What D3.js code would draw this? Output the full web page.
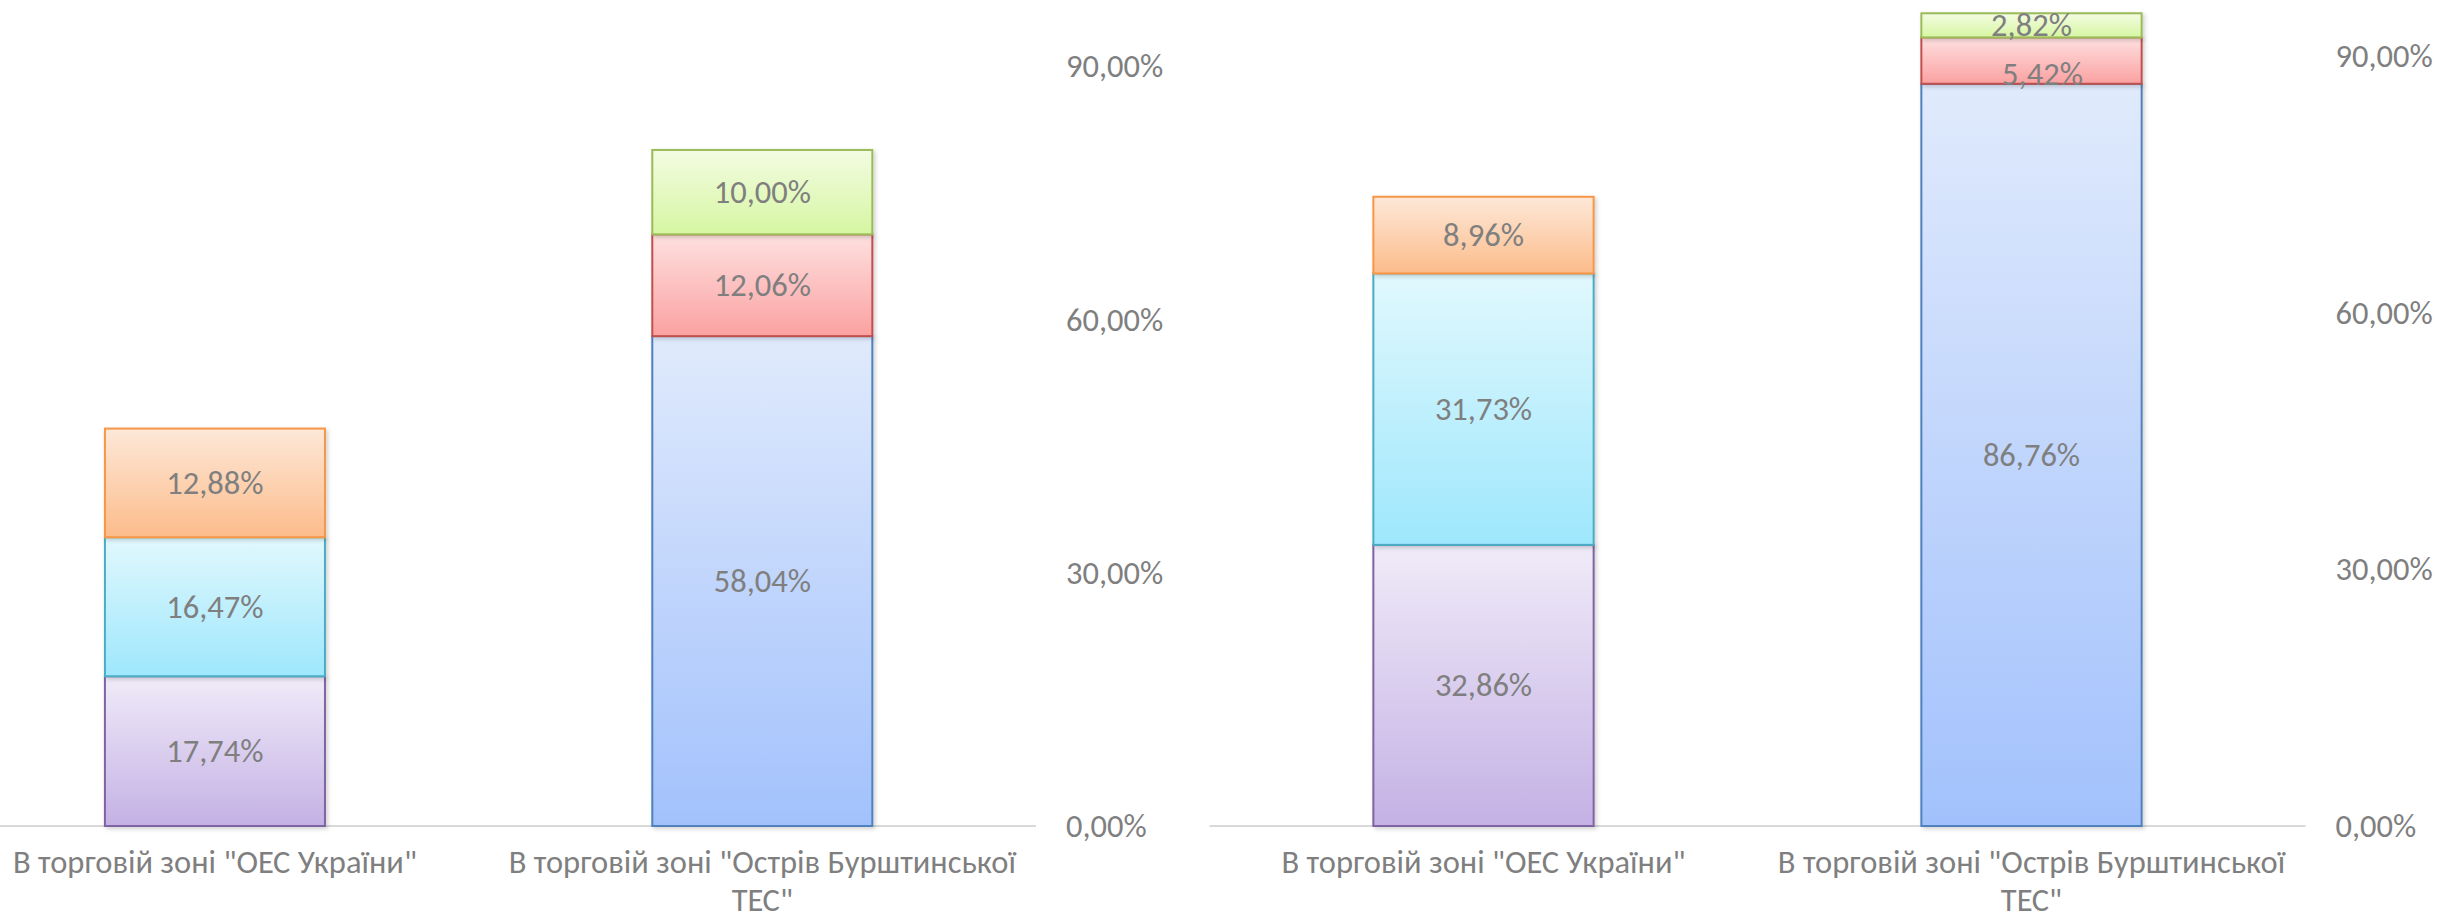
<!DOCTYPE html>
<html>
<head>
<meta charset="utf-8">
<script src="https://cdn.jsdelivr.net/npm/d3@7"></script>
<style>
  body { margin: 0; background: #fff; }
  svg { display: block; }
  text { font-family: Carlito, Calibri, Lato, "Liberation Sans", sans-serif; fill: #7f7f7f; }
</style>
</head>
<body>
<script>
'use strict';

// categories (same for both panels)
var categories = ['В торговій зоні "ОЕС України"', 'В торговій зоні "Острів Бурштинської ТЕС"'];

// left panel, stacked from bottom (values in %)
var leftPurple = [17.74, 0];
var leftAqua = [16.47, 0];
var leftOrange = [12.88, 0];
var leftBlue = [0, 58.04];
var leftRed = [0, 12.06];
var leftGreen = [0, 10.00];

// right panel
var rightPurple = [32.86, 0];
var rightAqua = [31.73, 0];
var rightOrange = [8.96, 0];
var rightBlue = [0, 86.76];
var rightRed = [0, 5.42];
var rightGreen = [0, 2.82];

var tickValues = [0, 30, 60, 90];

(function() {
    var width = 2437;
    var height = 919;
    var fontSize = '32.5px';

    var seriesStyle = {
        purple: { top: '#f0ebf8', bottom: '#c4b1e5', stroke: '#8064a2' },
        aqua:   { top: '#e1f8fd', bottom: '#9ee7fc', stroke: '#4bacc6' },
        orange: { top: '#fde8d8', bottom: '#fcbc8b', stroke: '#f79646' },
        blue:   { top: '#e0eafc', bottom: '#a2c1fc', stroke: '#4f81bd' },
        red:    { top: '#fee0e0', bottom: '#fba1a1', stroke: '#c0504d' },
        green:  { top: '#f3fce2', bottom: '#d6f6a2', stroke: '#9bbb59' }
    };
    var order = ['purple', 'aqua', 'orange', 'blue', 'red', 'green'];

    var svg = d3.select('body').append('svg')
        .attr('width', width)
        .attr('height', height);

    var defs = svg.append('defs');
    order.forEach(function(k) {
        var gr = defs.append('linearGradient')
            .attr('id', 'grad-' + k)
            .attr('x1', 0).attr('y1', 0).attr('x2', 0).attr('y2', 1);
        gr.append('stop').attr('offset', '0%').attr('stop-color', seriesStyle[k].top);
        gr.append('stop').attr('offset', '100%').attr('stop-color', seriesStyle[k].bottom);
    });
    var shadow = defs.append('filter').attr('id', 'shadow')
        .attr('x', '-10%').attr('y', '-10%').attr('width', '130%').attr('height', '130%');
    shadow.append('feDropShadow')
        .attr('dx', 2).attr('dy', 2).attr('stdDeviation', 2)
        .attr('flood-color', '#000').attr('flood-opacity', 0.18);

    var panels = [
        {
            series: { purple: leftPurple, aqua: leftAqua, orange: leftOrange,
                      blue: leftBlue, red: leftRed, green: leftGreen },
            x0: -58.75, x1: 1036, yTop: -18, nudge: {}
        },
        {
            series: { purple: rightPurple, aqua: rightAqua, orange: rightOrange,
                      blue: rightBlue, red: rightRed, green: rightGreen },
            x0: 1209.5, x1: 2305.5, yTop: -29.5, nudge: { red: [11, 13] }
        }
    ];

    var baseY = 826;

    panels.forEach(function(p) {
        var g = svg.append('g');

        var x = d3.scaleBand()
            .domain(categories)
            .range([p.x0, p.x1])
            .paddingInner(0.598)
            .paddingOuter(0.299);

        var y = d3.scaleLinear()
            .domain([0, 100])
            .range([baseY, p.yTop]);

        // stack rows
        var rows = categories.map(function(c, i) {
            var r = { cat: c };
            order.forEach(function(k) { r[k] = p.series[k][i]; });
            return r;
        });
        var stacked = d3.stack().keys(order)(rows);

        // baseline
        g.append('line')
            .attr('x1', p.x0).attr('x2', p.x1)
            .attr('y1', y(0)).attr('y2', y(0))
            .attr('stroke', '#d9d9d9').attr('stroke-width', 2);

        // right-side value axis labels
        var axis = d3.axisRight(y)
            .tickValues(tickValues)
            .tickSize(0)
            .tickPadding(0)
            .tickFormat(function(d) { return d3.format('.2f')(d).replace('.', ',') + '%'; });
        var ax = g.append('g')
            .attr('transform', 'translate(' + (p.x1 + 30) + ',0)')
            .call(axis);
        ax.select('.domain').remove();
        ax.selectAll('text')
            .attr('fill', '#7f7f7f')
            .style('font-size', fontSize);

        // bars
        stacked.forEach(function(layer) {
            var k = layer.key;
            g.selectAll('rect.bar-' + k)
                .data(layer.filter(function(d) { return d[1] - d[0] > 0; }))
                .enter()
                .append('rect')
                .attr('class', 'bar-' + k)
                .attr('x', function(d) { return x(d.data.cat); })
                .attr('width', x.bandwidth())
                .attr('y', function(d) { return y(d[1]); })
                .attr('height', function(d) { return y(d[0]) - y(d[1]); })
                .attr('fill', 'url(#grad-' + k + ')')
                .attr('stroke', seriesStyle[k].stroke)
                .attr('stroke-width', 2)
                .attr('filter', 'url(#shadow)');
        });

        // data labels
        stacked.forEach(function(layer) {
            var k = layer.key;
            var nd = p.nudge[k] || [0, 0];
            g.selectAll('text.lbl-' + k)
                .data(layer.filter(function(d) { return d[1] - d[0] > 0; }))
                .enter()
                .append('text')
                .attr('class', 'lbl-' + k)
                .attr('x', function(d) { return x(d.data.cat) + x.bandwidth() / 2 + nd[0]; })
                .attr('y', function(d) { return (y(d[0]) + y(d[1])) / 2 + nd[1]; })
                .attr('text-anchor', 'middle')
                .attr('dominant-baseline', 'central')
                .style('font-size', fontSize)
                .text(function(d) { return d3.format('.2f')(d[1] - d[0]).replace('.', ',') + '%'; });
        });

        // category labels, wrapped to the band step (one text per line)
        categories.forEach(function(c) {
            var cx = x(c) + x.bandwidth() / 2;
            var lines = wrapLines(g, c, 535);
            lines.forEach(function(ln, i) {
                g.append('text')
                    .attr('text-anchor', 'middle')
                    .attr('dominant-baseline', 'central')
                    .style('font-size', fontSize)
                    .attr('x', cx)
                    .attr('y', 862 + i * 38)
                    .text(ln);
            });
        });
    });

    function wrapLines(g, str, maxW) {
        var probe = g.append('text').style('font-size', fontSize);
        var words = str.split(' ');
        var lines = [];
        var line = [];
        words.forEach(function(w) {
            line.push(w);
            probe.text(line.join(' '));
            if (probe.node().getComputedTextLength() > maxW && line.length > 1) {
                line.pop();
                lines.push(line.join(' '));
                line = [w];
            }
        });
        lines.push(line.join(' '));
        probe.remove();
        return lines;
    }
})();
</script>
</body>
</html>
